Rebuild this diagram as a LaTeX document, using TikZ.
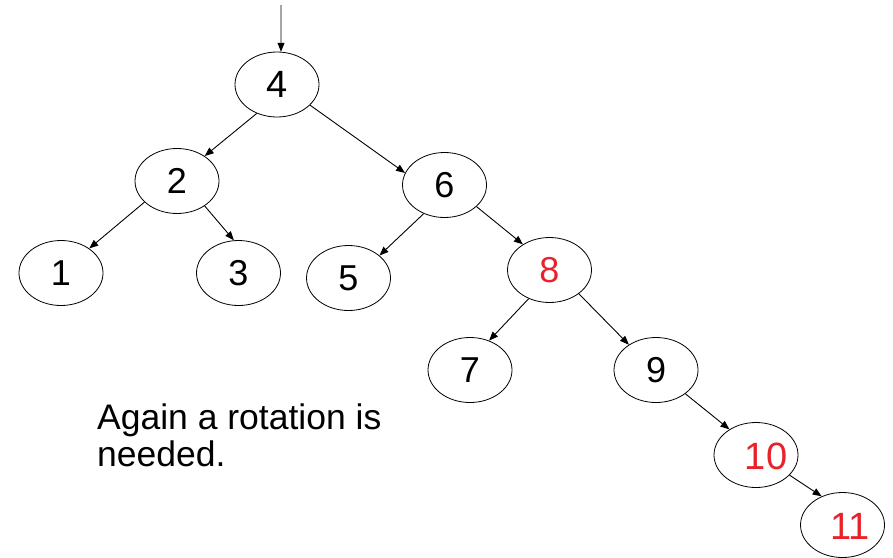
\documentclass[tikz,border=0pt]{standalone}
\usepackage{fontspec}
\setmainfont{Liberation Sans}
\usetikzlibrary{shapes.geometric,arrows.meta}
\definecolor{keyred}{HTML}{E8212B}
\begin{document}
\begin{tikzpicture}[x=1pt,y=-1pt,
  tnode/.style={draw,ellipse,line width=0.8pt,minimum width=84pt,minimum height=65pt,inner sep=0pt,
    font=\fontsize{36}{40}\selectfont},
  ttext/.style={inner sep=0pt,font=\fontsize{36}{40}\selectfont},
  link/.style={line width=0.9pt,-{Triangle[length=9pt,width=7pt]}}]
\useasboundingbox (0,0) rectangle (893,557);
\node[tnode,font=\fontsize{38}{42}\selectfont] (n4) at (277,84.5) {4};
\node[tnode] (n2) at (177,181) {2};
\node[tnode] (n6) at (444.5,185) {6};
\node[tnode] (n1) at (61,273) {1};
\node[tnode] (n3) at (238.5,273) {3};
\node[tnode] (n5) at (348.5,278) {5};
\node[tnode,text=keyred] (n8) at (549.5,270) {8};
\node[tnode] (n7) at (470,370) {7};
\node[tnode] (n9) at (656,370) {9};
\node[tnode] (n10) at (756,455) {};
\node[tnode] (n11) at (842.5,525) {};
\node[ttext,text=keyred,font=\fontsize{38}{42}\selectfont] (t10) at (766,456) {10};
\node[ttext,text=keyred,font=\fontsize{38}{42}\selectfont] (t11) at (850,526) {11};
\coordinate (top) at (281,5);
\draw[link] (top) -- (n4.83);
\draw[link] (n4.-125.6) -- (n2.42.9);
\draw[link] (n4.-32) -- (n6.163);
\draw[link] (n2.-147) -- (n1.41.8);
\draw[link] (n2.-42.9) -- (n3.98.8);
\draw[link] (n6.-126.9) -- (n5.36.2);
\draw[link] (n6.-34) -- (n8.136.6);
\draw[link] (n8.-126.6) -- (n7.57.5);
\draw[link] (n8.-39.9) -- (n9.137.2);
\draw[link] (n9.-39.2) -- (n10.136);
\draw[link] (n10.-31.4) -- (n11.126.9);
\node[anchor=base west,inner sep=0pt,align=left,font=\fontsize{35.5}{37}\selectfont] (note) at (97,466)
  {Again a rotation is\\needed.};
\end{tikzpicture}
\end{document}
